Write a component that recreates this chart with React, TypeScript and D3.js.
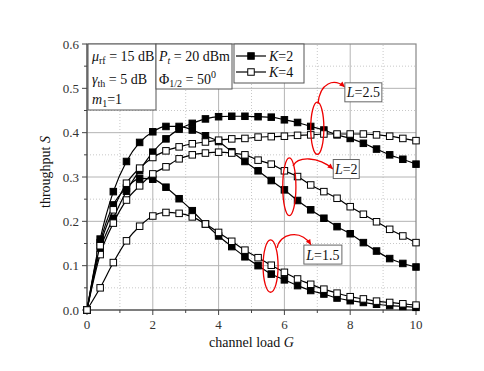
import React from 'react'
import * as d3 from 'd3'

const width = 484
const height = 371
const margin = { top: 44, right: 68, bottom: 61, left: 87 }

// channel load G, one marker every 0.4
const G = [0, 0.4, 0.8, 1.2, 1.6, 2.0, 2.4, 2.8, 3.2, 3.6, 4.0, 4.4, 4.8, 5.2, 5.6, 6.0, 6.4, 6.8, 7.2, 7.6, 8.0, 8.4, 8.8, 9.2, 9.6, 10]

// K=2 (filled)
const k2L15 = [0, 0.152, 0.237, 0.275, 0.297, 0.295, 0.277, 0.251, 0.224, 0.194, 0.167, 0.143, 0.12, 0.1, 0.081, 0.068, 0.055, 0.044, 0.036, 0.027, 0.021, 0.017, 0.013, 0.01, 0.008, 0.006]
const k2L2 = [0, 0.16, 0.267, 0.335, 0.378, 0.402, 0.414, 0.414, 0.406, 0.393, 0.38, 0.357, 0.335, 0.314, 0.292, 0.271, 0.247, 0.226, 0.207, 0.188, 0.172, 0.152, 0.133, 0.116, 0.105, 0.097]
const k2L25 = [0, 0.135, 0.207, 0.268, 0.315, 0.356, 0.386, 0.408, 0.421, 0.431, 0.436, 0.437, 0.437, 0.436, 0.435, 0.429, 0.423, 0.414, 0.406, 0.395, 0.387, 0.376, 0.363, 0.35, 0.34, 0.329]
// K=4 (open)
const k4L15 = [0, 0.05, 0.107, 0.156, 0.189, 0.212, 0.22, 0.218, 0.21, 0.194, 0.175, 0.155, 0.135, 0.118, 0.101, 0.085, 0.07, 0.058, 0.047, 0.038, 0.03, 0.025, 0.02, 0.017, 0.014, 0.011]
const k4L2 = [0, 0.125, 0.196, 0.248, 0.28, 0.307, 0.323, 0.341, 0.35, 0.354, 0.356, 0.354, 0.35, 0.338, 0.329, 0.314, 0.301, 0.282, 0.267, 0.252, 0.233, 0.216, 0.199, 0.182, 0.167, 0.152]
const k4L25 = [0, 0.145, 0.226, 0.286, 0.32, 0.344, 0.359, 0.368, 0.375, 0.379, 0.383, 0.386, 0.387, 0.39, 0.391, 0.392, 0.394, 0.395, 0.397, 0.397, 0.397, 0.397, 0.395, 0.392, 0.387, 0.382]

const series = [
    { name: 'K2 L1.5', values: k2L15, filled: true },
    { name: 'K2 L2', values: k2L2, filled: true },
    { name: 'K2 L2.5', values: k2L25, filled: true },
    { name: 'K4 L1.5', values: k4L15, filled: false },
    { name: 'K4 L2', values: k4L2, filled: false },
    { name: 'K4 L2.5', values: k4L25, filled: false },
]

const xTicks = [0, 2, 4, 6, 8, 10]
const xMinor = [1, 3, 5, 7, 9]
const yTicks = [0, 0.1, 0.2, 0.3, 0.4, 0.5, 0.6]
const yMinor = [0.05, 0.15, 0.25, 0.35, 0.45, 0.55]

// L annotations: ellipse (data units), arrow bezier, label
const notes = [
    { label: '2.5', cx: 7.0, cy: 0.41, rg: 0.2, rs: 0.059, arrow: [[7.02, 0.465], [7.08, 0.514], [7.51, 0.523], [7.84, 0.503]], lx: 8.4, ly: 0.491, w: 37 },
    { label: '2', cx: 6.15, cy: 0.278, rg: 0.2, rs: 0.065, arrow: [[6.26, 0.325], [6.41, 0.347], [7.02, 0.347], [7.48, 0.318]], lx: 7.88, ly: 0.318, w: 26 },
    { label: '1.5', cx: 5.58, cy: 0.099, rg: 0.228, rs: 0.059, arrow: [[5.78, 0.14], [5.84, 0.171], [6.47, 0.185], [6.81, 0.147]], lx: 7.17, ly: 0.125, w: 38 },
]

const x = d3.scaleLinear().domain([0, 10]).range([margin.left, width - margin.right])
const y = d3.scaleLinear().domain([0, 0.6]).range([height - margin.bottom, margin.top])

const line = d3
    .line<number>()
    .x((d, i) => x(G[i]))
    .y((d) => y(d))
    .curve(d3.curveMonotoneX)

const font = '"Liberation Serif", "Times New Roman", serif'
const ms = 6.5

const Marker = ({ cx, cy, filled }: { cx: number; cy: number; filled: boolean }) => (
    <rect
        x={cx - ms / 2}
        y={cy - ms / 2}
        width={ms}
        height={ms}
        fill={filled ? '#000' : '#fff'}
        stroke="#000"
        strokeWidth={1}
    />
)

export default function App() {
    const x0 = x.range()[0]
    const x1 = x.range()[1]
    const y0 = y.range()[0]
    const y1 = y.range()[1]
    return (
        <svg width={width} height={height} style={{ position: 'absolute', left: 0, top: 0, background: '#fff' }} fontFamily={font}>
            {/* grid */}
            {xMinor.map((t) => (
                <line key={'xm' + t} x1={x(t)} x2={x(t)} y1={y0} y2={y1} stroke="#c8c8c8" strokeDasharray="1,2" />
            ))}
            {yMinor.map((t) => (
                <line key={'ym' + t} x1={x0} x2={x1} y1={y(t)} y2={y(t)} stroke="#c8c8c8" strokeDasharray="1,2" />
            ))}
            {xTicks.slice(1, -1).map((t) => (
                <line key={'xg' + t} x1={x(t)} x2={x(t)} y1={y0} y2={y1} stroke="#b4b4b4" />
            ))}
            {yTicks.slice(1, -1).map((t) => (
                <line key={'yg' + t} x1={x0} x2={x1} y1={y(t)} y2={y(t)} stroke="#b4b4b4" />
            ))}
            {/* frame */}
            <rect x={x0} y={y1} width={x1 - x0} height={y0 - y1} fill="none" stroke="#888" strokeWidth={1.2} />
            <line x1={x0} x2={x0} y1={y0} y2={y1} stroke="#444" />
            <line x1={x0} x2={x1} y1={y0} y2={y0} stroke="#444" />

            {/* ticks */}
            {xTicks.map((t) => (
                <g key={'xt' + t}>
                    <line x1={x(t)} x2={x(t)} y1={y0} y2={y0 + 5} stroke="#444" />
                    <text x={x(t)} y={y0 + 19} fontSize={13} textAnchor="middle" fill="#333">
                        {t}
                    </text>
                </g>
            ))}
            {xMinor.map((t) => (
                <line key={'xmt' + t} x1={x(t)} x2={x(t)} y1={y0} y2={y0 + 3} stroke="#444" />
            ))}
            {yTicks.map((t) => (
                <g key={'yt' + t}>
                    <line x1={x0 - 5} x2={x0} y1={y(t)} y2={y(t)} stroke="#444" />
                    <text x={x0 - 8} y={y(t) + 4.5} fontSize={13} textAnchor="end" fill="#333">
                        {t.toFixed(1)}
                    </text>
                </g>
            ))}
            {yMinor.map((t) => (
                <line key={'ymt' + t} x1={x0 - 3} x2={x0} y1={y(t)} y2={y(t)} stroke="#444" />
            ))}

            {/* axis labels */}
            <text x={(x0 + x1) / 2} y={347} fontSize={14} textAnchor="middle" fill="#111">
                channel load <tspan fontStyle="italic">G</tspan>
            </text>
            <text transform={`translate(50,${(y0 + y1) / 2 - 5}) rotate(-90)`} fontSize={14} textAnchor="middle" fill="#111">
                throughput <tspan fontStyle="italic">S</tspan>
            </text>

            {/* curves */}
            {series.map((s) => (
                <g key={s.name}>
                    <path d={line(s.values) || ''} fill="none" stroke="#000" strokeWidth={1.2} />
                    {s.values.map((v, i) => (
                        <Marker key={i} cx={x(G[i])} cy={y(v)} filled={s.filled} />
                    ))}
                </g>
            ))}

            {/* annotations */}
            {notes.map((n) => {
                const [p0, p1, p2, p3] = n.arrow.map(([g, s]) => [x(g), y(s)])
                const ang = Math.atan2(p3[1] - p2[1], p3[0] - p2[0])
                const ah = 6
                const head = [
                    [p3[0], p3[1]],
                    [p3[0] - ah * Math.cos(ang - 0.45), p3[1] - ah * Math.sin(ang - 0.45)],
                    [p3[0] - ah * Math.cos(ang + 0.45), p3[1] - ah * Math.sin(ang + 0.45)],
                ]
                const lx = x(n.lx)
                const ly = y(n.ly)
                return (
                    <g key={n.label}>
                        <ellipse
                            cx={x(n.cx)}
                            cy={y(n.cy)}
                            rx={x(n.rg) - x(0)}
                            ry={y(0) - y(n.rs)}
                            fill="none"
                            stroke="#e00"
                            strokeWidth={1.3}
                        />
                        <path
                            d={`M${p0[0]},${p0[1]} C${p1[0]},${p1[1]} ${p2[0]},${p2[1]} ${p3[0]},${p3[1]}`}
                            fill="none"
                            stroke="#e00"
                            strokeWidth={1.3}
                        />
                        <path d={`M${head.map((p) => p.join(',')).join('L')}Z`} fill="#e00" />
                        <rect x={lx - n.w / 2} y={ly - 9.5} width={n.w} height={19} fill="#fff" stroke="#666" />
                        <text x={lx} y={ly + 5} fontSize={14} textAnchor="middle" fill="#111">
                            <tspan fontStyle="italic">L</tspan>={n.label}
                        </text>
                    </g>
                )
            })}

            {/* parameter boxes */}
            <g fontSize={14} fill="#111">
                <rect x={88} y={44} width={68} height={66} fill="#fff" stroke="#555" />
                <text x={92} y={61}>
                    <tspan fontStyle="italic">μ</tspan>
                    <tspan fontSize={10} dy={3}>rf</tspan>
                    <tspan dy={-3}> = 15 dB</tspan>
                </text>
                <text x={92} y={84}>
                    <tspan fontStyle="italic">γ</tspan>
                    <tspan fontSize={10} dy={3}>th</tspan>
                    <tspan dy={-3}> = 5 dB</tspan>
                </text>
                <text x={92} y={104}>
                    <tspan fontStyle="italic">m</tspan>
                    <tspan fontSize={10} dy={3}>1</tspan>
                    <tspan dy={-3}>=1</tspan>
                </text>

                <rect x={156} y={44} width={76} height={45} fill="#fff" stroke="#555" />
                <text x={159} y={61}>
                    <tspan fontStyle="italic">P</tspan>
                    <tspan fontSize={10} dy={3} fontStyle="italic">t</tspan>
                    <tspan dy={-3}> = 20 dBm</tspan>
                </text>
                <text x={159} y={84}>
                    <tspan>Φ</tspan>
                    <tspan fontSize={10} dy={3}>1/2</tspan>
                    <tspan dy={-3}> = 50</tspan>
                    <tspan fontSize={10} dy={-6}>0</tspan>
                </text>

                <rect x={234} y={44} width={70} height={39} fill="#fff" stroke="#555" />
                {[true, false].map((f, i) => (
                    <g key={i}>
                        <line x1={236} x2={266} y1={56 + i * 16} y2={56 + i * 16} stroke="#000" strokeWidth={1.2} />
                        <Marker cx={251} cy={56 + i * 16} filled={f} />
                        <text x={269} y={61 + i * 16}>
                            <tspan fontStyle="italic">K</tspan>={f ? 2 : 4}
                        </text>
                    </g>
                ))}
            </g>
        </svg>
    )
}
